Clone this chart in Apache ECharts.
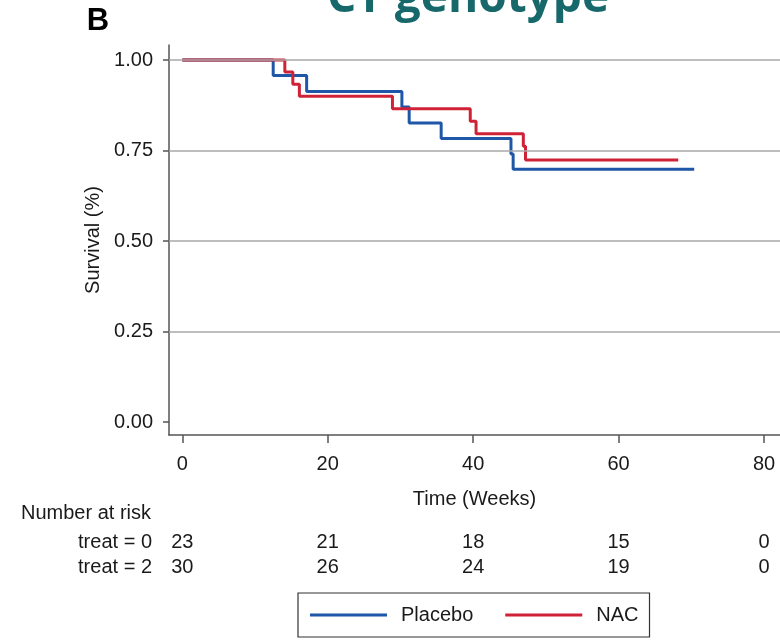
<!DOCTYPE html>
<html>
<head>
<meta charset="utf-8">
<script src="https://cdn.jsdelivr.net/npm/echarts@6/dist/echarts.min.js"></script>
<style>html,body{margin:0;padding:0;background:#fff;}#c{width:780px;height:640px;}</style>
</head>
<body>
<div id="c"></div>
<script>
// ---- data ----
var placeboTimes = [0, 12.5, 17.1, 30.2, 31.2, 35.6, 45.2, 45.5, 70.4];
var placeboSurv  = [1, 0.957, 0.913, 0.870, 0.826, 0.783, 0.740, 0.698, 0.698];
var nacTimes = [0, 14.1, 15.2, 16.1, 28.9, 39.6, 40.4, 46.9, 47.2, 68.2];
var nacSurv  = [1, 0.967, 0.933, 0.900, 0.865, 0.831, 0.796, 0.762, 0.724, 0.724];
var xTicks = [0, 20, 40, 60, 80];
var yTicks = [0, 0.25, 0.5, 0.75, 1];
var gridValues = [0.25, 0.5, 0.75, 1];
var riskTimes = [0, 20, 40, 60, 80];
var riskRows = ['treat = 0', 'treat = 2'];
var riskPlacebo = [23, 21, 18, 15, 0];
var riskNAC = [30, 26, 24, 19, 0];
var seriesNames = ['Placebo', 'NAC'];

var FONT = '"Liberation Sans", Arial, sans-serif';
var TXT = '#1a1a1a';
var BLUE = '#1f57a8', RED = '#cf2237';
var XMIN = -1.83, XMAX = 82.2;

function pairs(xs, ys) { return xs.map(function (x, i) { return [x, ys[i]]; }); }
var riskData = [];
riskTimes.forEach(function (t, i) {
  riskData.push([t, 0, riskPlacebo[i]]);
  riskData.push([t, 1, riskNAC[i]]);
});

var chart = echarts.init(document.getElementById('c'), null, {renderer: 'canvas'});
chart.setOption({
  animation: false,
  backgroundColor: '#fff',
  textStyle: {fontFamily: FONT},
  graphic: [
    {type: 'text', x: 468, y: -1, style: {text: 'CT genotype', font: 'bold 46px "Open Sans", sans-serif', fill: '#17686b', textAlign: 'center', textVerticalAlign: 'middle', align: 'center', verticalAlign: 'middle'}},
    {type: 'text', x: 98, y: 21, style: {text: 'B', font: 'bold 31px "Liberation Sans", Arial, sans-serif', fill: '#000', textAlign: 'center', textVerticalAlign: 'middle', align: 'center', verticalAlign: 'middle'}},
    {type: 'text', x: 21, y: 513, style: {text: 'Number at risk', font: '20px "Liberation Sans", Arial, sans-serif', fill: TXT, textAlign: 'left', textVerticalAlign: 'middle', align: 'left', verticalAlign: 'middle'}}
  ],
  legend: {
    data: seriesNames.map(function (n) { return {name: n, icon: 'rect'}; }),
    left: 298, top: 593,
    orient: 'horizontal',
    itemWidth: 77, itemHeight: 3, itemGap: 32,
    padding: [12, 11, 12, 12],
    borderColor: '#333', borderWidth: 1.2,
    textStyle: {fontFamily: FONT, fontSize: 20, color: TXT, padding: [0, 0, 0, 9]},
    selectedMode: false
  },
  grid: [
    {left: 169, right: 0, top: 45, bottom: 205},
    {left: 169, right: 0, top: 530, height: 50}
  ],
  xAxis: [
    {
      type: 'value', gridIndex: 0, min: XMIN, max: XMAX,
      name: 'Time (Weeks)', nameLocation: 'middle', nameGap: 54,
      nameTextStyle: {fontFamily: FONT, fontSize: 20, color: TXT},
      axisLine: {show: true, onZero: false, lineStyle: {color: '#555', width: 1.5}},
      axisTick: {show: true, length: 8, inside: false, customValues: xTicks, lineStyle: {color: '#555', width: 1.5}},
      axisLabel: {show: true, customValues: xTicks, margin: 19, fontFamily: FONT, fontSize: 20, color: TXT},
      splitLine: {show: false}
    },
    {
      type: 'value', gridIndex: 1, min: XMIN, max: XMAX, show: false
    }
  ],
  yAxis: [
    {
      type: 'value', gridIndex: 0, min: -0.0359, max: 1.0414,
      name: 'Survival (%)', nameLocation: 'middle', nameGap: 64,
      nameTextStyle: {fontFamily: FONT, fontSize: 20, color: TXT},
      axisLine: {show: true, onZero: false, lineStyle: {color: '#555', width: 1.5}},
      axisTick: {show: true, length: 6, inside: false, customValues: yTicks, lineStyle: {color: '#555', width: 1.5}},
      axisLabel: {show: true, customValues: yTicks, margin: 16, fontFamily: FONT, fontSize: 20, color: TXT,
        formatter: function (v) { return Number(v).toFixed(2); }},
      splitLine: {show: false}
    },
    {
      type: 'category', gridIndex: 1, data: riskRows, inverse: true,
      axisLine: {show: false}, axisTick: {show: false}, splitLine: {show: false},
      axisLabel: {show: true, interval: 0, hideOverlap: false, margin: 17, fontFamily: FONT, fontSize: 20, color: TXT}
    }
  ],
  series: [
    {
      name: 'grid', type: 'line', data: [], z: 1, silent: true,
      xAxisIndex: 0, yAxisIndex: 0,
      markLine: {
        silent: true, symbol: ['none', 'none'], label: {show: false},
        lineStyle: {color: '#a8a8a8', width: 1.5, type: 'solid'},
        data: gridValues.map(function (v) { return {yAxis: v}; })
      }
    },
    {
      name: seriesNames[0], type: 'line', step: 'end', z: 3,
      xAxisIndex: 0, yAxisIndex: 0,
      data: pairs(placeboTimes, placeboSurv),
      symbol: 'none', showSymbol: false,
      lineStyle: {color: BLUE, width: 3}, itemStyle: {color: BLUE}
    },
    {
      name: seriesNames[1], type: 'line', step: 'end', z: 4,
      xAxisIndex: 0, yAxisIndex: 0,
      data: pairs(nacTimes, nacSurv),
      symbol: 'none', showSymbol: false,
      lineStyle: {color: RED, width: 3}, itemStyle: {color: RED}
    },
    {
      name: 'risk', type: 'scatter', xAxisIndex: 1, yAxisIndex: 1,
      data: riskData, symbolSize: 0, silent: true,
      itemStyle: {opacity: 1},
      label: {show: true, position: 'inside', opacity: 1, fontFamily: FONT, fontSize: 20, color: TXT,
        formatter: function (p) { return String(p.value[2]); }}
    }
  ]
});
</script>
</body>
</html>
